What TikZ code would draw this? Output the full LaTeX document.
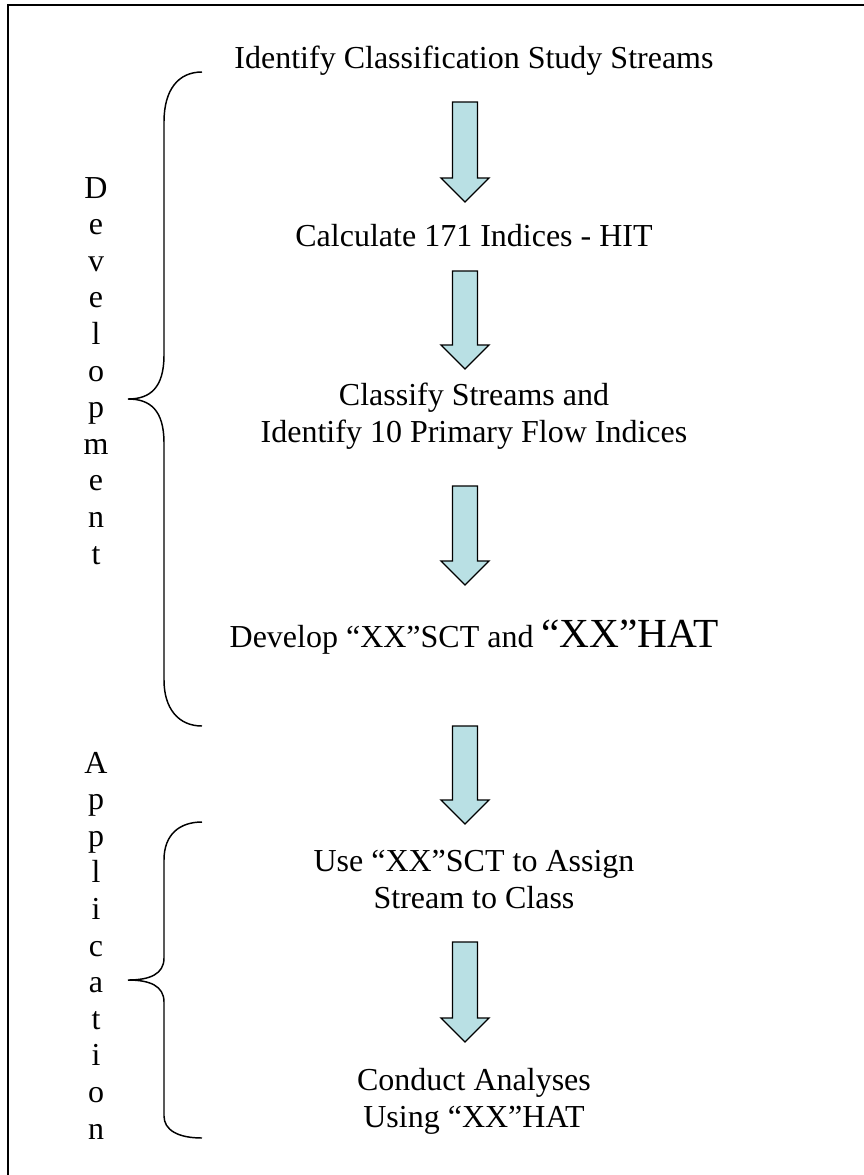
\documentclass[tikz,border=0pt]{standalone}
\usepackage{fontspec}
\setmainfont{Liberation Serif}
\definecolor{arrowfill}{RGB}{185,224,228}
\newcommand{\arrowx}{465}
\newcommand{\textx}{474}
\newcommand{\labelx}{96}
\newcommand{\StepFont}{\fontsize{24}{27.75}\selectfont}
\newcommand{\BigFont}{\fontsize{31}{31}\selectfont}
\newcommand{\LetterFont}{\fontsize{24}{27.45}\selectfont}
% block arrow: #1 = top, #2 = tip
\newcommand{\flowarrow}[2]{\draw[flowarrow] (\arrowx-12.5,#1) -- (\arrowx+12.5,#1) -- (\arrowx+12.5,#2-24) -- (\arrowx+24,#2-24) -- (\arrowx,#2) -- (\arrowx-24,#2-24) -- (\arrowx-12.5,#2-24) -- cycle;}
\tikzset{
  steptext/.style={anchor=base,align=center,inner sep=0pt,font=\StepFont},
  sidelabel/.style={anchor=base,align=center,inner sep=0pt,font=\LetterFont},
  flowarrow/.style={draw=black,fill=arrowfill,line width=1pt,line join=miter},
  bracket/.style={draw=black,line width=1.1pt},
  frame/.style={draw=black,line width=2pt}
}
\begin{document}
\begin{tikzpicture}[x=0.75pt,y=-0.75pt]
\useasboundingbox (0,0) rectangle (864,1175);

% Frame
\draw[frame] (8,1175) -- (8,5) -- (864,5);

% Step nodes (base = last line)
\node (ID) [steptext] at (\textx,68) {Identify Classification Study Streams};
\node (CI) [steptext] at (\textx,246) {Calculate 171 Indices - HIT};
\node (CS) [steptext] at (\textx,442) {Classify Streams and\\Identify 10 Primary Flow Indices};
\node (DV) [steptext] at (\textx,647) {Develop “XX”SCT and {\BigFont “XX”HAT}};
\node (US) [steptext] at (\textx,908) {Use “XX”SCT to Assign\\Stream to Class};
\node (CA) [steptext] at (\textx,1127) {Conduct Analyses\\Using “XX”HAT};

% Arrows
\flowarrow{102}{202}
\flowarrow{271}{369}
\flowarrow{486}{585}
\flowarrow{726}{824}
\flowarrow{942}{1042}

% Braces
\draw[bracket] (202,72) .. controls (178,72) and (164,90) .. (164,122) -- (164,355)
  .. controls (164,388) and (150,399) .. (128,399)
  .. controls (150,399) and (164,410) .. (164,443) -- (164,680)
  .. controls (164,708) and (178,726) .. (202,726);
\draw[bracket] (202,822) .. controls (180,822) and (164,834) .. (164,860) -- (164,958)
  .. controls (164,974) and (150,980) .. (128,980)
  .. controls (150,980) and (164,986) .. (164,1002) -- (164,1116)
  .. controls (164,1130) and (178,1138) .. (202,1138);

% Side labels
\node (DevLabel) [sidelabel] at (\labelx,564) {D\\e\\v\\e\\l\\o\\p\\m\\e\\n\\t};
\node (AppLabel) [sidelabel] at (\labelx,1139) {A\\p\\p\\l\\i\\c\\a\\t\\i\\o\\n};

\end{tikzpicture}
\end{document}
